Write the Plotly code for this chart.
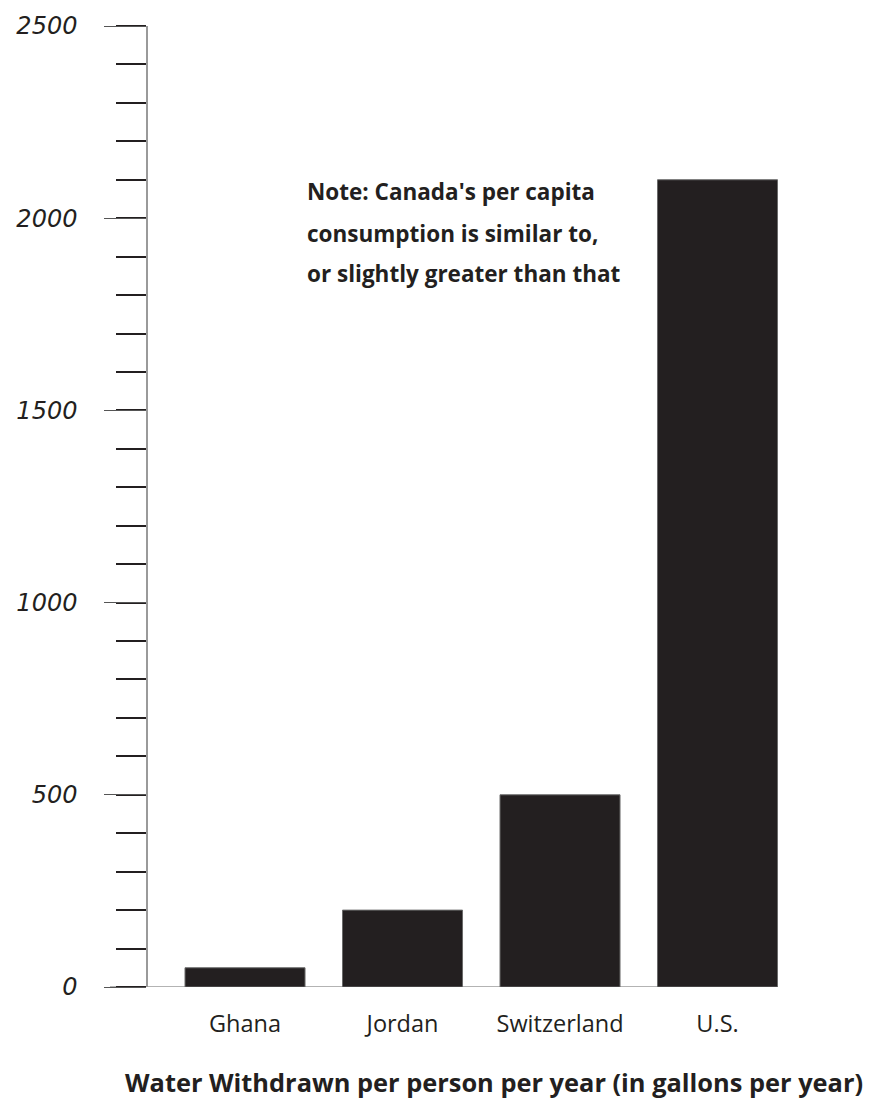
import plotly.graph_objects as go

# Water withdrawn per person per year (gallons)
countries = ["Ghana", "Jordan", "Switzerland", "U.S."]
gallons = [50, 200, 500, 2100]

y_tick_values = [0, 500, 1000, 1500, 2000, 2500]
y_tick_labels = ["0", "500", "1000", "1500", "2000", "2500"]

note_lines = [
    "Note: Canada's per capita",
    "consumption is similar to,",
    "or slightly greater than that",
]
title_text = "Water Withdrawn per person per year (in gallons per year)"

BAR_COLOR = "#231f20"
AXIS_GRAY = "#9a9a9a"
label_font = "Open Sans"

fig = go.Figure(
    go.Bar(
        x=countries,
        y=gallons,
        marker=dict(color=BAR_COLOR, line=dict(color="#6a6a6a", width=1)),
        hoverinfo="x+y",
    )
)

fig.update_layout(
    width=878,
    height=1098,
    margin=dict(l=148, r=100, t=26, b=111),
    paper_bgcolor="white",
    plot_bgcolor="white",
    bargap=0.238,
    showlegend=False,
)

fig.update_xaxes(
    type="category",
    range=[-0.616, 3.384],
    showline=False,
    showgrid=False,
    zeroline=False,
    ticks="",
    ticklabelstandoff=20,
    tickfont=dict(family=label_font, size=23.5, color="#231f20"),
)

fig.update_yaxes(
    range=[0, 2500],
    tickvals=y_tick_values,
    ticktext=y_tick_labels,
    showline=True,
    linecolor=AXIS_GRAY,
    linewidth=1.5,
    showgrid=False,
    zeroline=False,
    ticks="outside",
    ticklen=42,
    tickwidth=1.3,
    tickcolor="#555555",
    ticklabelstandoff=22,
    tickfont=dict(family="DejaVu Sans", size=24, style="italic", color="#231f20"),
    minor=dict(dtick=100, ticks="outside", ticklen=30, tickwidth=1.5,
               tickcolor="#231f20", showgrid=False),
)

# Baseline running from the left of the axis to the last bar
fig.add_shape(
    type="line", xref="paper", yref="y",
    x0=-0.0603, x1=1.0, y0=0, y1=0,
    line=dict(color=AXIS_GRAY, width=1.5),
    layer="below",
)

# Note text, one annotation per line
for line, ypos in zip(note_lines, [0.828, 0.784, 0.742]):
    fig.add_annotation(
        text=line, xref="paper", yref="paper",
        x=0.249, y=ypos, xanchor="left", yanchor="middle",
        showarrow=False,
        font=dict(family=label_font, size=22.5, weight="bold", color="#231f20"),
    )

fig.add_annotation(
    text="<b>" + title_text + "</b>",
    xref="paper", yref="paper",
    x=(494 - 148) / 630, y=-0.0985, xanchor="center", yanchor="middle",
    showarrow=False,
    font=dict(family=label_font, size=25.4, color="#231f20"),
)

fig.write_html("out.html")
